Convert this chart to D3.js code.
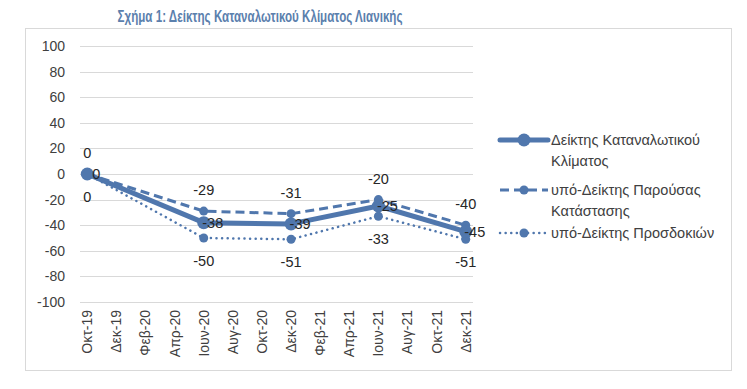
<!DOCTYPE html>
<html><head><meta charset="utf-8">
<script src="https://cdn.jsdelivr.net/npm/d3@7"></script>
<style>body{margin:0;background:#fff;} svg{display:block;font-family:"Liberation Sans",Arial,sans-serif;}</style>
</head><body>
<svg id="c" width="747" height="389"></svg>
<script>
const title = "Σχήμα 1: Δείκτης Καταναλωτικού Κλίματος Λιανικής";
const months = ["Οκτ-19","Νοε-19","Δεκ-19","Ιαν-20","Φεβ-20","Μαρ-20","Απρ-20","Μαϊ-20","Ιουν-20","Ιουλ-20","Αυγ-20","Σεπ-20","Οκτ-20","Νοε-20","Δεκ-20","Ιαν-21","Φεβ-21","Μαρ-21","Απρ-21","Μαϊ-21","Ιουν-21","Ιουλ-21","Αυγ-21","Σεπ-21","Οκτ-21","Νοε-21","Δεκ-21"];
const tickLabels = ["Οκτ-19","Δεκ-19","Φεβ-20","Απρ-20","Ιουν-20","Αυγ-20","Οκτ-20","Δεκ-20","Φεβ-21","Απρ-21","Ιουν-21","Αυγ-21","Οκτ-21","Δεκ-21"];
const dataDates = ["Οκτ-19","Ιουν-20","Δεκ-20","Ιουν-21","Δεκ-21"];
const climate = [0,-38,-39,-25,-45];
const present = [0,-29,-31,-20,-40];
const expect  = [0,-50,-51,-33,-51];
const yTicks = [100,80,60,40,20,0,-20,-40,-60,-80,-100];
const seriesNames = ["Δείκτης Καταναλωτικού Κλίματος","υπό-Δείκτης Παρούσας Κατάστασης","υπό-Δείκτης Προσδοκιών"];

const svg = d3.select("#c");
const blue = "#5077ad";
const txt = "#404040";

// outer border
svg.append("rect").attr("x",25.5).attr("y",28.5).attr("width",706).attr("height",342)
  .attr("fill","none").attr("stroke","#d9d9d9").attr("stroke-width",1);

// title
svg.append("text").attr("x",260).attr("y",21.5).attr("text-anchor","middle")
  .attr("fill","#5b80ad").attr("font-weight","bold")
  .attr("font-size",17).attr("textLength",285).attr("lengthAdjust","spacingAndGlyphs").text(title);

const x = d3.scaleBand().domain(months).range([80,473]);
const xc = m => x(m) + x.bandwidth()/2;
const y = d3.scaleLinear().domain([-100,100]).range([302,46]);

// gridlines
svg.append("g").selectAll("line").data(yTicks).join("line")
  .attr("x1",80).attr("x2",473).attr("y1",d=>Math.round(y(d))+0.5).attr("y2",d=>Math.round(y(d))+0.5)
  .attr("stroke","#d9d9d9").attr("stroke-width",1);

// y axis labels
const yAxis = d3.axisLeft(y).tickValues(yTicks).tickSize(0).tickPadding(0).tickFormat(d=>String(d));
const gy = svg.append("g").attr("transform","translate(65,0)").call(yAxis);
gy.select(".domain").remove();
gy.selectAll("text").attr("font-size",14).attr("fill",txt).style("font-family","'Liberation Sans',Arial,sans-serif");

// x axis labels
const xAxis = d3.axisBottom(x).tickValues(tickLabels).tickSize(0).tickPadding(0);
const gx = svg.append("g").attr("transform","translate(0,310)").call(xAxis);
gx.select(".domain").remove();
gx.selectAll("text").attr("font-size",14).attr("fill",txt).style("font-family","'Liberation Sans',Arial,sans-serif")
  .attr("text-anchor","end").attr("transform","rotate(-90)").attr("x",0).attr("y",0).attr("dy","0.35em");

function pts(vals){ return vals.map((v,i)=>({m:dataDates[i], v})); }
const line = d3.line().x(d=>xc(d.m)).y(d=>y(d.v));

const series = [
  {vals:climate, w:5, dash:null, r:6.5, cap:"round"},
  {vals:present, w:3, dash:"9,5", r:4.5, cap:"butt"},
  {vals:expect, w:2.5, dash:"0.1,5.5", r:4.5, cap:"round"}
];
[2,1,0].forEach(k=>{
  const s = series[k];
  const g = svg.append("g");
  g.append("path").datum(pts(s.vals)).attr("d",line).attr("fill","none")
    .attr("stroke",blue).attr("stroke-width",s.w).attr("stroke-linejoin","round")
    .attr("stroke-linecap",s.cap).attr("stroke-dasharray",s.dash);
  g.selectAll("circle").data(pts(s.vals)).join("circle")
    .attr("cx",d=>xc(d.m)).attr("cy",d=>y(d.v)).attr("r",s.r).attr("fill",blue);
});

// data labels
const lab = svg.append("g").attr("font-size",14.5).attr("fill","#262626");
lab.selectAll("text.p").data(pts(present)).join("text").attr("class","p")
  .attr("x",d=>xc(d.m)).attr("y",d=>y(d.v)-21).attr("dy","0.35em").attr("text-anchor","middle").text(d=>d.v);
lab.selectAll("text.e").data(pts(expect)).join("text").attr("class","e")
  .attr("x",d=>xc(d.m)).attr("y",d=>y(d.v)+23).attr("dy","0.35em").attr("text-anchor","middle").text(d=>d.v);
lab.selectAll("text.c").data(pts(climate)).join("text").attr("class","c")
  .attr("x",d=>xc(d.m)+9).attr("y",d=>y(d.v)).attr("dy","0.35em").attr("text-anchor","middle").text(d=>d.v);

// legend
const legRows = [
  {k:0, y:140, lines:["Δείκτης Καταναλωτικού","Κλίματος"]},
  {k:1, y:190, lines:["υπό-Δείκτης Παρούσας","Κατάστασης"]},
  {k:2, y:233, lines:["υπό-Δείκτης Προσδοκιών"]}
];
legRows.forEach(r=>{
  const s = series[r.k];
  const g = svg.append("g");
  g.append("line").attr("x1",500).attr("x2",548).attr("y1",r.y).attr("y2",r.y)
    .attr("stroke",blue).attr("stroke-width",s.w).attr("stroke-linecap",s.cap).attr("stroke-dasharray",s.dash);
  g.append("circle").attr("cx",524).attr("cy",r.y).attr("r",s.r).attr("fill",blue);
  const tx = g.append("text").attr("y",r.y).attr("font-size",14.5).attr("fill",txt);
  r.lines.forEach((l,j)=>tx.append("tspan").attr("x",551).attr("dy", j===0?"0.35em":"1.45em").text(l));
});
</script>
</body></html>
